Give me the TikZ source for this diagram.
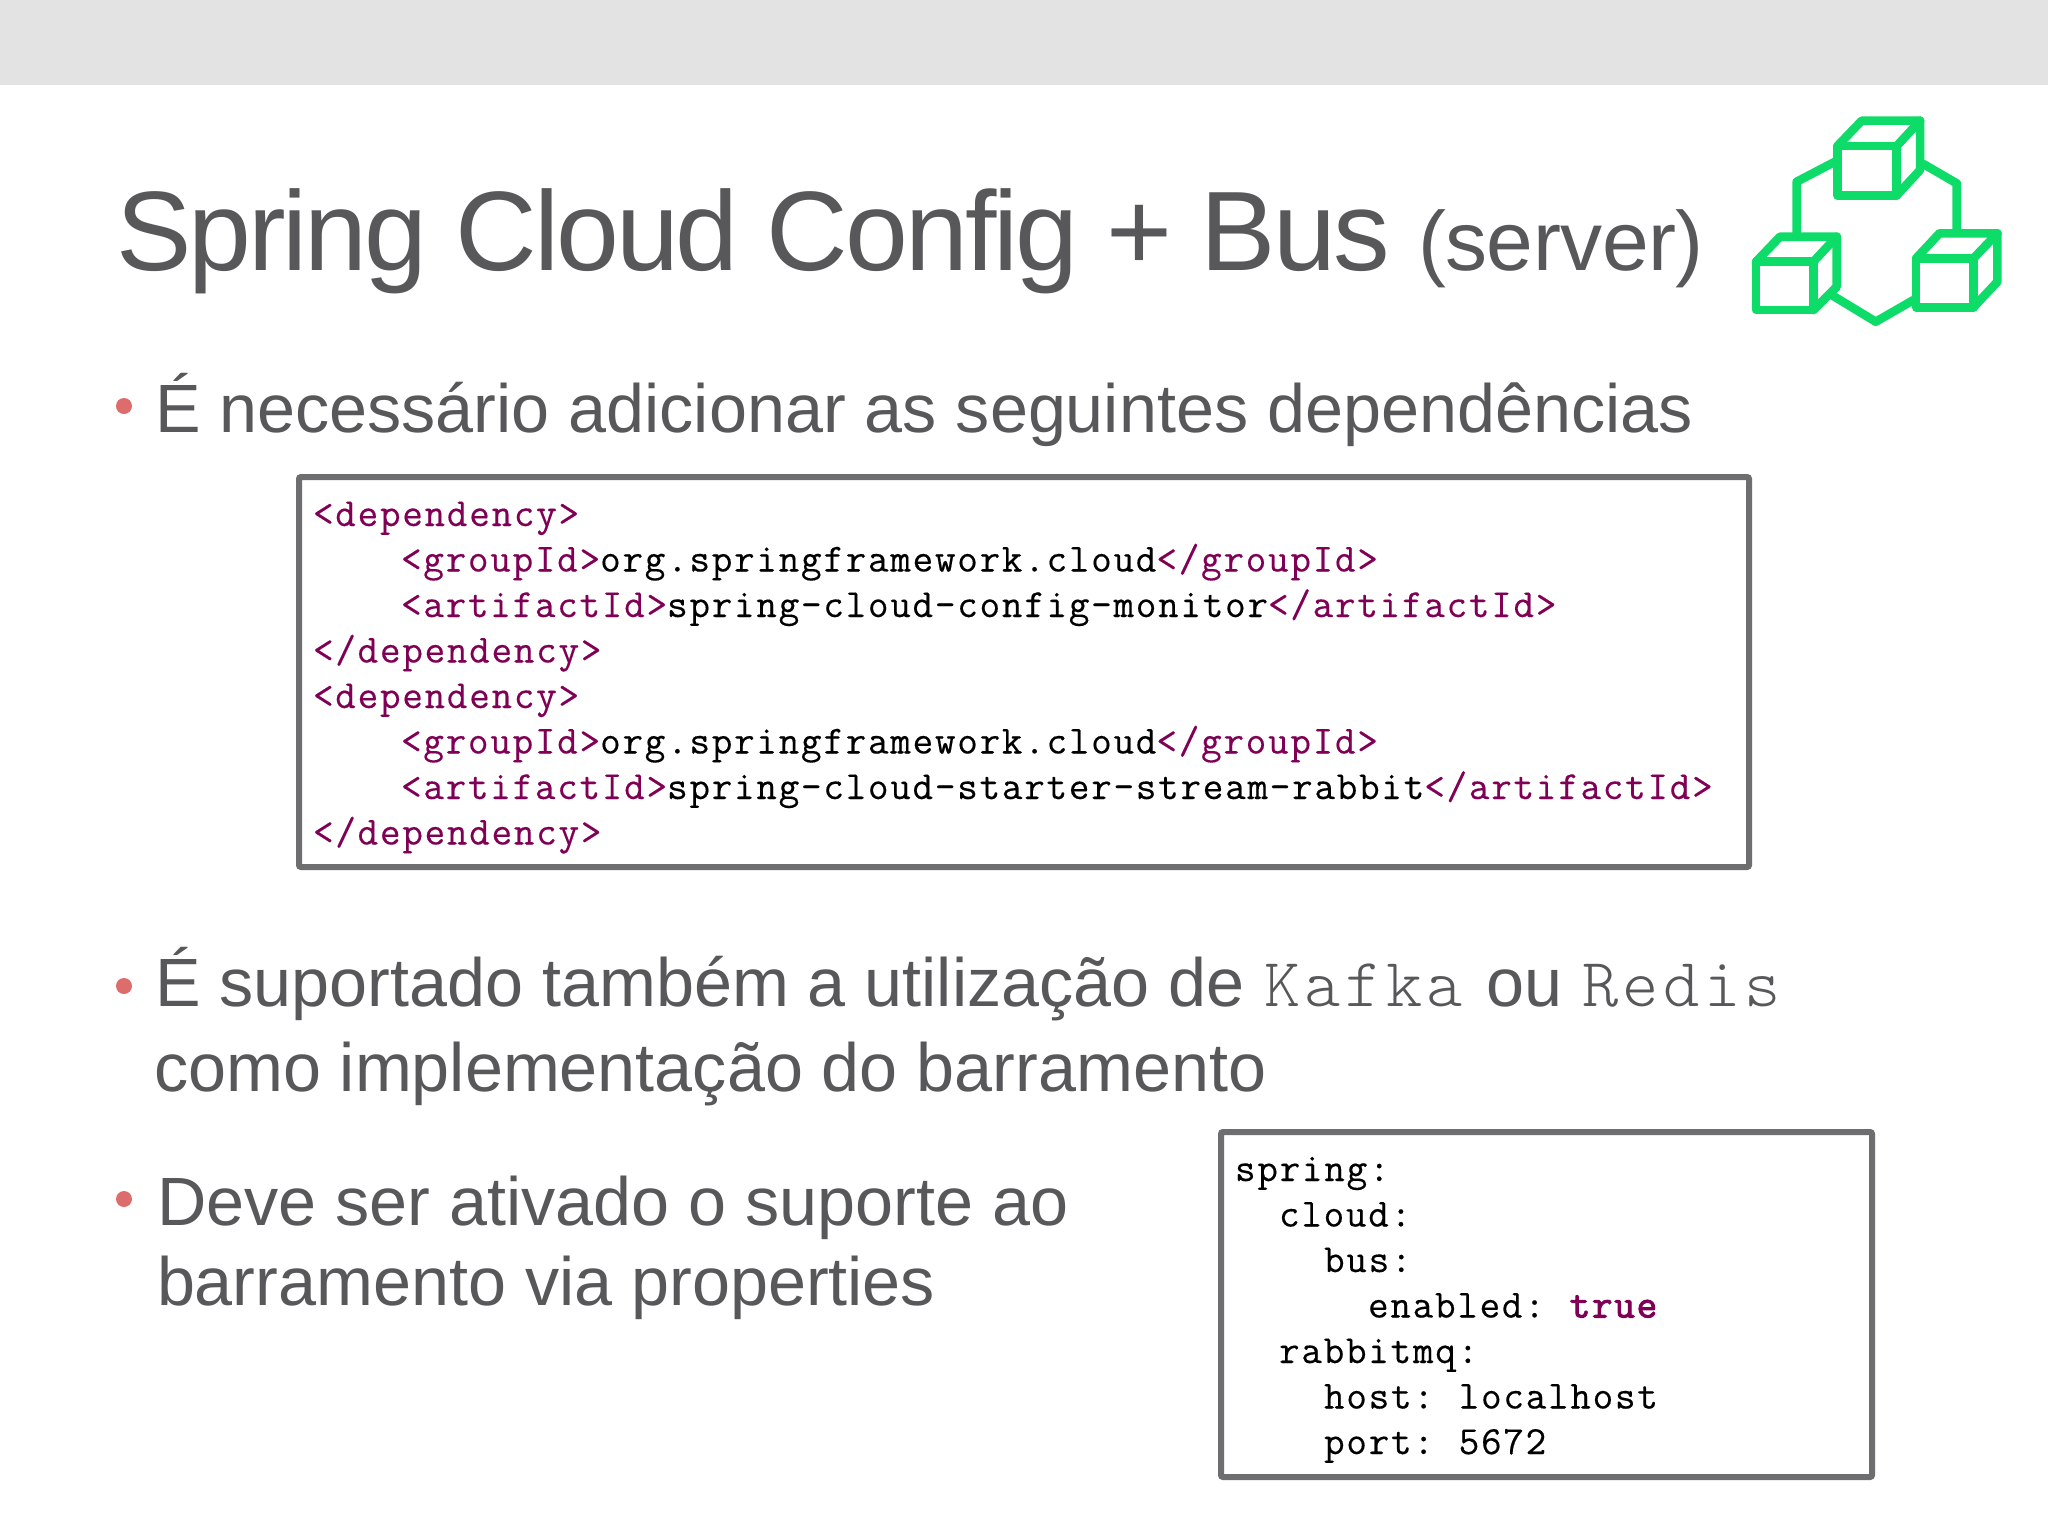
\documentclass[tikz,border=0pt]{standalone}
\usepackage{fontspec}
\setmainfont{Liberation Sans}
\newfontfamily\titlefont{Liberation Sans}[LetterSpace=-2.7]
\newfontfamily\subfont{Liberation Sans}[LetterSpace=-0.6]
\newfontfamily\codefont{Latin Modern Mono}[LetterSpace=4.3,FakeBold=0.3,WordSpace=0.78]
\newfontfamily\codebold{Latin Modern Mono}[LetterSpace=4.3,FakeBold=2.4]
\newfontfamily\lightmono{Latin Modern Mono Light}[LetterSpace=6.5]
\definecolor{slidetxt}{HTML}{58585A}
\definecolor{xmlpurple}{HTML}{7F0055}
\definecolor{boxgray}{HTML}{6E6E70}
\definecolor{iconG}{HTML}{0EDC68}
\definecolor{bulletred}{HTML}{DD6C6C}
\definecolor{bandgray}{HTML}{E3E3E3}
\tikzset{
  txt/.style={anchor=base west,inner sep=0pt,outer sep=0pt,text=slidetxt},
  title/.style={txt,font=\titlefont\fontsize{56.5}{60}\selectfont},
  subtitle/.style={txt,font=\subfont\fontsize{42}{46}\selectfont},
  bodytxt/.style={txt,font=\fontsize{34.15}{38}\selectfont},
  monotxt/.style={txt,font=\lightmono\fontsize{34.5}{38}\selectfont,text=slidetxt},
  code/.style={anchor=base west,inner sep=0pt,outer sep=0pt,text=black,font=\codefont\fontsize{20}{22}\selectfont},
  codebox/.style={draw=boxgray,line width=3pt,fill=white,rounded corners=1pt},
  bulletdot/.style={circle,fill=bulletred,inner sep=0pt,minimum size=8pt},
  icon/.style={draw=iconG,line width=4.3pt,line join=round,line cap=round},
}
\newcommand{\pur}[1]{\textcolor{xmlpurple}{#1}}
\begin{document}
\begin{tikzpicture}[x=0.5pt,y=-0.5pt]
\useasboundingbox (0,0) rectangle (2048,1536);
\fill[white] (0,0) rectangle (2048,1536);
\fill[bandgray] (0,0) rectangle (2048,85);
% title
\node[title] (t1) at (116,270) {Spring Cloud Config + Bus};
\node[subtitle] (t2) at (1418,270) {(server)};
% icon
\begin{scope}[shift={(1700,90)},x=0.1667pt,y=-0.1667pt,icon]
\draw (412,168) rectangle (590,316);
\draw (412,168) -- (485,92) -- (660,92) -- (590,168);
\draw (660,92) -- (660,240) -- (590,316);
\draw (168,515) rectangle (340,660);
\draw (168,515) -- (240,440) -- (410,440) -- (340,515);
\draw (410,440) -- (410,590) -- (340,660);
\draw (648,505) rectangle (820,652);
\draw (648,505) -- (718,430) -- (892,430) -- (820,505);
\draw (892,430) -- (892,575) -- (820,652);
\draw (405,215) -- (290,275) -- (290,432);
\draw (670,222) -- (770,280) -- (770,422);
\draw (395,615) -- (527,695) -- (640,630);
\end{scope}
% bullets
\node[bulletdot] (b1) at (124,406) {};
\node[bulletdot] (b2) at (124,986) {};
\node[bulletdot] (b3) at (124,1199) {};
\node[bodytxt] (l1) at (155,432) {É necessário adicionar as seguintes dependências};
\node[bodytxt] (l2) at (155,1006) {É suportado também a utilização de};
\node[monotxt] (kafka) at (1264,1006) {Kafka};
\node[bodytxt] (ou) at (1486,1006) {ou};
\node[monotxt] (redis) at (1582,1006) {Redis};
\node[bodytxt] (l3) at (154,1091) {como implementação do barramento};
\node[bodytxt] (l4) at (157,1225) {Deve ser ativado o suporte ao};
\node[bodytxt] (l5) at (157,1305) {barramento via properties};
% boxes
\draw[codebox] (299,477) rectangle (1749,867);
\draw[codebox] (1221,1132) rectangle (1872,1477);
% xml
\node[code] (x1) at (313,526) {\pur{<dependency>}};
\node[code] (x2) at (401,571.5) {\pur{<groupId>}org.springframework.cloud\pur{</groupId>}};
\node[code] (x3) at (401,617) {\pur{<artifactId>}spring-cloud-config-monitor\pur{</artifactId>}};
\node[code] (x4) at (313,662.5) {\pur{</dependency>}};
\node[code] (x5) at (313,708) {\pur{<dependency>}};
\node[code] (x6) at (401,753.5) {\pur{<groupId>}org.springframework.cloud\pur{</groupId>}};
\node[code] (x7) at (401,799) {\pur{<artifactId>}spring-cloud-starter-stream-rabbit\pur{</artifactId>}};
\node[code] (x8) at (313,844.5) {\pur{</dependency>}};
% yaml
\node[code] (y1) at (1235,1181) {spring:};
\node[code] (y2) at (1279,1226.5) {cloud:};
\node[code] (y3) at (1324,1272) {bus:};
\node[code] (y4) at (1368,1317.5) {enabled: \textcolor{xmlpurple}{\codebold\fontsize{20}{22}\selectfont true}};
\node[code] (y5) at (1279,1363) {rabbitmq:};
\node[code] (y6) at (1324,1408.5) {host: localhost};
\node[code] (y7) at (1324,1454) {port: 5672};
\end{tikzpicture}
\end{document}
